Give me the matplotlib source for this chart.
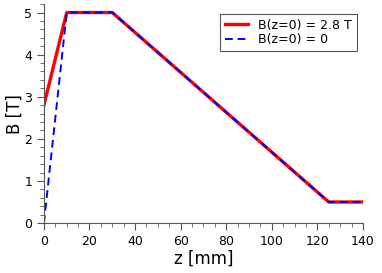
import matplotlib
matplotlib.use("Agg")
import matplotlib.pyplot as plt
from matplotlib.ticker import MultipleLocator

z = [0, 10, 30, 125, 140]
b_red = [2.8, 5, 5, 0.5, 0.5]
b_blue = [0, 5, 5, 0.5, 0.5]

fig = plt.figure(figsize=(3.82, 2.73), dpi=100)
ax = fig.add_axes([0.115, 0.183, 0.835, 0.802])
ax.plot(z, b_red, color='red', lw=2.4, label='B(z=0) = 2.8 T')
ax.plot(z, b_blue, color='blue', lw=1.4, ls=(0, (4, 2.5)), label='B(z=0) = 0')
ax.set_xlim(0, 140)
ax.set_ylim(0, 5.2)
ax.xaxis.set_major_locator(MultipleLocator(20))
ax.xaxis.set_minor_locator(MultipleLocator(5))
ax.yaxis.set_major_locator(MultipleLocator(1))
ax.yaxis.set_minor_locator(MultipleLocator(0.2))
for s in ['top', 'right']:
    ax.spines[s].set_visible(False)
for s in ['left', 'bottom']:
    ax.spines[s].set_color('#555555')
ax.tick_params(which='major', length=5, color='#555555', labelsize=9)
ax.tick_params(which='minor', length=3, color='#555555')
ax.set_xlabel('z [mm]', fontsize=12, labelpad=1)
ax.set_ylabel('B [T]', fontsize=12, labelpad=0)
leg = ax.legend(loc='upper right', fontsize=9, fancybox=False, edgecolor='#555555',
                framealpha=1, handlelength=1.8, borderpad=0.4, labelspacing=0.1,
                bbox_to_anchor=(1.0, 0.985))
leg.get_frame().set_linewidth(0.8)
fig.savefig('out.png', dpi=100)
